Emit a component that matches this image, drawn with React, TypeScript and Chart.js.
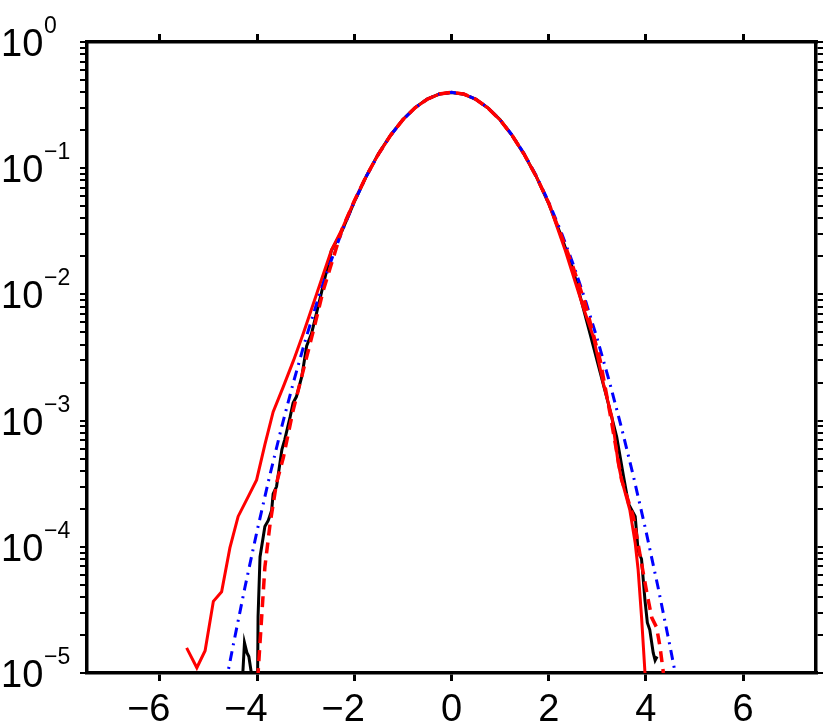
import React, { useEffect, useRef } from "react";
import { Chart, registerables } from "chart.js";

Chart.register(...registerables);

// ---------- data ----------
const xTickValues = [-6, -4, -2, 0, 2, 4, 6];
const yDecadeExponents = [-5, -4, -3, -2, -1, 0];

// black solid
const blackX = [-4.34, -4.3, -4.26, -4.21, -4.17, -4.1, -3.99, -3.98, -3.94, -3.84, -3.77, -3.7, -3.67, -3.6, -3.49, -3.43, -3.32, -3.26, -3.19, -3.08, -2.98, -2.88, -2.71, -2.47, -2.25, -2.0, -1.75, -1.5, -1.25, -1.0, -0.75, -0.5, -0.25, 0, 0.25, 0.5, 0.75, 1.0, 1.25, 1.5, 1.75, 2.0, 2.25, 2.5, 2.85, 3.19, 3.4, 3.54, 3.64, 3.78, 3.84, 3.91, 3.98, 4.03, 4.08, 4.15, 4.19, 4.23];
const blackY = [9e-6, 9e-6, 1.74e-5, 1.45e-5, 1.35e-5, 9e-6, 9e-6, 2.8e-5, 8.3e-5, 1.45e-4, 1.62e-4, 1.95e-4, 2.63e-4, 3.0e-4, 5.9e-4, 7.1e-4, 1.07e-3, 1.38e-3, 1.55e-3, 2.24e-3, 3.9e-3, 4.9e-3, 9.1e-3, 2.24e-2, 3.2e-2, 5.4e-2, 8.7e-2, 0.131, 0.184, 0.243, 0.302, 0.353, 0.387, 0.398, 0.386, 0.351, 0.3, 0.242, 0.181, 0.128, 0.085, 0.0525, 0.0295, 0.0158, 4.9e-3, 1.55e-3, 7.4e-4, 3.6e-4, 2.2e-4, 1.74e-4, 9.3e-5, 8.0e-5, 3.8e-5, 2.5e-5, 2.2e-5, 1.45e-5, 1.26e-5, 1.35e-5];

// red solid
const redSolidX = [-5.45, -5.24, -5.07, -4.9, -4.73, -4.56, -4.39, -4.18, -4.01, -3.84, -3.67, -3.46, -3.25, -3.05, -2.77, -2.47, -2.25, -2.0, -1.75, -1.5, -1.25, -1.0, -0.75, -0.5, -0.25, 0, 0.25, 0.5, 0.75, 1.0, 1.25, 1.5, 1.75, 2.0, 2.34, 2.71, 2.92, 3.12, 3.3, 3.43, 3.5, 3.67, 3.78, 3.84, 3.91, 3.98, 4.02];
const redSolidY = [1.58e-5, 1.1e-5, 1.5e-5, 3.7e-5, 4.4e-5, 9.8e-5, 1.74e-4, 2.51e-4, 3.39e-4, 6.46e-4, 1.17e-3, 1.86e-3, 3.0e-3, 4.9e-3, 1.02e-2, 2.24e-2, 3.3e-2, 5.5e-2, 8.7e-2, 0.13, 0.183, 0.242, 0.301, 0.352, 0.387, 0.399, 0.387, 0.352, 0.3, 0.241, 0.181, 0.128, 0.085, 0.053, 2.24e-2, 7.9e-3, 4.6e-3, 2.0e-3, 1.07e-3, 4.6e-4, 3.4e-4, 1.95e-4, 1.07e-4, 6.6e-5, 2.8e-5, 1.02e-5, 8e-6];

// blue dash-dot
const blueX = [-4.65, -4.5, -4.25, -4.0, -3.75, -3.5, -3.25, -3.0, -2.75, -2.5, -2.25, -2.0, -1.75, -1.5, -1.25, -1.0, -0.75, -0.5, -0.25, 0, 0.25, 0.5, 0.75, 1.0, 1.25, 1.5, 1.75, 2.0, 2.25, 2.5, 2.75, 3.0, 3.25, 3.5, 3.75, 4.0, 4.25, 4.5, 4.65];
const blueY = [8.1e-6, 1.6e-5, 4.78e-5, 1.34e-4, 3.53e-4, 8.73e-4, 2.03e-3, 4.43e-3, 9.1e-3, 1.75e-2, 3.17e-2, 5.4e-2, 8.63e-2, 0.1295, 0.1826, 0.242, 0.3011, 0.3521, 0.3867, 0.3989, 0.3867, 0.3521, 0.3011, 0.242, 0.1826, 0.1295, 8.63e-2, 5.4e-2, 3.17e-2, 1.75e-2, 9.1e-3, 4.43e-3, 2.03e-3, 8.73e-4, 3.53e-4, 1.34e-4, 4.78e-5, 1.6e-5, 8.1e-6];

// red dashed
const redDashX = [-4.02, -3.98, -3.84, -3.73, -3.6, -3.46, -3.26, -3.05, -2.84, -2.64, -2.25, -2.0, -1.75, -1.5, -1.25, -1.0, -0.75, -0.5, -0.25, 0, 0.25, 0.5, 0.75, 1.0, 1.25, 1.5, 1.75, 2.0, 2.25, 2.5, 2.75, 3.06, 3.26, 3.5, 3.74, 3.91, 4.02, 4.12, 4.22, 4.29, 4.36, 4.38];
const redDashY = [9e-6, 1.0e-5, 6.9e-5, 1.55e-4, 3.2e-4, 5.1e-4, 1.2e-3, 2.5e-3, 5.2e-3, 1.07e-2, 3.3e-2, 5.5e-2, 8.7e-2, 0.13, 0.183, 0.242, 0.301, 0.352, 0.387, 0.399, 0.387, 0.352, 0.3, 0.241, 0.181, 0.128, 0.085, 0.053, 0.03, 0.0165, 8.5e-3, 3.0e-3, 1.15e-3, 3.4e-4, 1.74e-4, 7.4e-5, 4.3e-5, 2.75e-5, 2.3e-5, 1.62e-5, 1.0e-5, 9e-6];

const toPoints = (xs: number[], ys: number[]) => xs.map((x, i) => ({ x, y: ys[i] }));

const W = 830;
const H = 723;
const AREA = { left: 87, right: 816, top: 42, bottom: 673 };

const FONT = '"Liberation Sans", Arial, Helvetica, sans-serif';

const labelPlugin = {
  id: "customLabels",
  afterDraw(chart: any) {
    const ctx = chart.ctx as CanvasRenderingContext2D;
    const xs = chart.scales.x;
    const ys = chart.scales.y;
    ctx.save();
    ctx.fillStyle = "#000";
    ctx.textBaseline = "alphabetic";
    // x labels
    ctx.font = `38px ${FONT}`;
    ctx.textAlign = "center";
    const minusW = ctx.measureText("\u2212").width;
    xTickValues.forEach((v) => {
      const px = xs.getPixelForValue(v);
      const txt = v < 0 ? "\u2212" + Math.abs(v) : String(v);
      const cx = v < 0 ? px - minusW / 2 : px;
      ctx.fillText(txt, cx, 721);
    });
    // y labels
    yDecadeExponents.forEach((e) => {
      const py = ys.getPixelForValue(Math.pow(10, e));
      ctx.textAlign = "left";
      ctx.font = `38px ${FONT}`;
      ctx.fillText("10", 1, py + 14);
      ctx.font = `23px ${FONT}`;
      const sup = e < 0 ? "\u2212" + Math.abs(e) : String(e);
      ctx.fillText(sup, 44, py - 9);
    });
    ctx.restore();
  },
};

function buildYTicks() {
  const out: { value: number }[] = [];
  for (let i = 0; i < yDecadeExponents.length; i++) {
    const base = Math.pow(10, yDecadeExponents[i]);
    if (i === yDecadeExponents.length - 1) {
      out.push({ value: base });
    } else {
      for (let m = 1; m <= 9; m++) out.push({ value: base * m });
    }
  }
  return out;
}

export default function App() {
  const ref = useRef<HTMLCanvasElement | null>(null);

  useEffect(() => {
    if (!ref.current) return;
    const xScale = (position: string, size: number) => ({
      type: "linear",
      position,
      min: -7.5,
      max: 7.5,
      grid: {
        display: true,
        drawOnChartArea: false,
        drawTicks: true,
        tickLength: 8,
        color: "#000",
        lineWidth: 3,
      },
      border: { display: true, color: "#000", width: 3.5 },
      ticks: { display: true, autoSkip: false, padding: 0, callback: () => "", font: { size: 1 } },
      afterBuildTicks: (s: any) => {
        s.ticks = xTickValues.map((v) => ({ value: v }));
      },
      afterFit: (s: any) => {
        s.height = size;
      },
    });
    const yScale = (position: string, size: number) => ({
      type: "logarithmic",
      position,
      min: 1e-5,
      max: 1,
      grid: {
        display: true,
        drawOnChartArea: false,
        drawTicks: true,
        tickLength: 7,
        color: "#000",
        lineWidth: 2,
      },
      border: { display: true, color: "#000", width: 3.5 },
      ticks: { display: true, autoSkip: false, padding: 0, callback: () => "", font: { size: 1 } },
      afterBuildTicks: (s: any) => {
        s.ticks = buildYTicks();
      },
      afterFit: (s: any) => {
        s.width = size;
      },
    });

    const chart = new Chart(ref.current, {
      type: "line",
      data: {
        datasets: [
          {
            label: "red dashed",
            data: toPoints(redDashX, redDashY),
            borderColor: "#ff0000",
            borderWidth: 3.5,
            borderDash: [11, 7],
            pointRadius: 0,
            tension: 0,
            fill: false,
            xAxisID: "x",
            yAxisID: "y",
          },
          {
            label: "blue dash-dot",
            data: toPoints(blueX, blueY),
            borderColor: "#0000ff",
            borderWidth: 3,
            borderDash: [10, 6, 2, 6],
            pointRadius: 0,
            tension: 0,
            fill: false,
            xAxisID: "x",
            yAxisID: "y",
          },
          {
            label: "red solid",
            data: toPoints(redSolidX, redSolidY),
            borderColor: "#ff0000",
            borderWidth: 3,
            pointRadius: 0,
            tension: 0,
            fill: false,
            xAxisID: "x",
            yAxisID: "y",
          },
          {
            label: "black",
            data: toPoints(blackX, blackY),
            borderColor: "#000000",
            borderWidth: 3,
            pointRadius: 0,
            tension: 0,
            fill: false,
            xAxisID: "x",
            yAxisID: "y",
          },
        ],
      },
      options: {
        animation: false,
        responsive: true,
        maintainAspectRatio: false,
        devicePixelRatio: 1,
        layout: { padding: 0 },
        plugins: {
          legend: { display: false },
          tooltip: { enabled: false },
        },
        scales: {
          x: xScale("bottom", H - AREA.bottom),
          x2: xScale("top", AREA.top),
          y: yScale("left", AREA.left),
          y2: yScale("right", W - AREA.right),
        } as any,
      } as any,
      plugins: [labelPlugin],
    });
    return () => chart.destroy();
  }, []);

  return (
    <div
      style={{
        position: "absolute",
        left: 0,
        top: 0,
        width: W,
        height: H,
        background: "#fff",
      }}
    >
      <canvas ref={ref} />
    </div>
  );
}
